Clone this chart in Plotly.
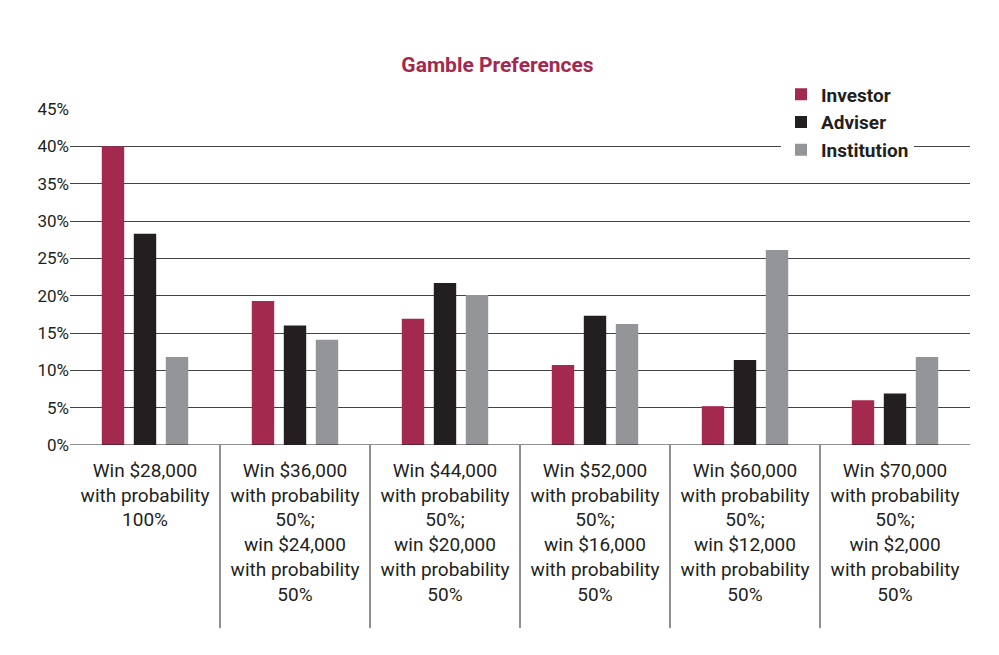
import plotly.graph_objects as go

labels = [
    "Win $28,000<br>with probability<br>100%",
    "Win $36,000<br>with probability<br>50%;<br>win $24,000<br>with probability<br>50%",
    "Win $44,000<br>with probability<br>50%;<br>win $20,000<br>with probability<br>50%",
    "Win $52,000<br>with probability<br>50%;<br>win $16,000<br>with probability<br>50%",
    "Win $60,000<br>with probability<br>50%;<br>win $12,000<br>with probability<br>50%",
    "Win $70,000<br>with probability<br>50%;<br>win $2,000<br>with probability<br>50%",
]
investor = [40.0, 19.3, 16.9, 10.7, 5.2, 6.0]
adviser = [28.3, 16.0, 21.7, 17.3, 11.4, 6.9]
institution = [11.8, 14.1, 20.1, 16.2, 26.1, 11.8]

FONT = "Liberation Sans Narrow, Roboto, Arial, sans-serif"
x = list(range(len(labels)))

fig = go.Figure()
for name, vals, col in [("Investor", investor, "#A3294F"),
                        ("Adviser", adviser, "#231F20"),
                        ("Institution", institution, "#939598")]:
    fig.add_trace(go.Bar(x=x, y=vals, name="<b>" + name + "</b>",
                         marker=dict(color=col, line=dict(width=0))))

shapes = [dict(type="line", xref="x", yref="paper", x0=i + 0.5, x1=i + 0.5,
               y0=0, y1=-0.545, line=dict(color="#231F20", width=1)) for i in range(5)]
shapes.append(dict(type="line", xref="paper", yref="y", x0=0, x1=1, y0=0, y1=0,
                   line=dict(color="#231F20", width=1)))

fig.update_layout(
    width=999, height=655,
    paper_bgcolor="white", plot_bgcolor="white",
    margin=dict(l=62, r=37, t=101, b=218, autoexpand=False),
    font=dict(family=FONT, size=18, color="#231F20"),
    title=dict(text="<b>Gamble Preferences</b>", x=0.49, xanchor="center", y=0.925,
               font=dict(family=FONT, size=21, color="#A3294F")),
    barmode="group", bargap=0.36, bargroupgap=0.3,
    showlegend=True,
    legend=dict(x=0.79, y=1.1, xanchor="left", yanchor="top", bgcolor="white",
                font=dict(family=FONT, size=19, color="#231F20"),
                itemwidth=30, tracegroupgap=4),
    xaxis=dict(range=[-0.5, 5.5], tickvals=x, ticktext=labels, showgrid=False,
               ticks="", showline=False, zeroline=False, tickfont=dict(size=19),
               ticklabelstandoff=12),
    yaxis=dict(range=[0, 45], dtick=5, ticksuffix="%", showgrid=True,
               gridcolor="#444", gridwidth=1, zeroline=False, showline=False,
               tickfont=dict(size=17)),
    shapes=shapes,
)

fig.write_html("out.html")
